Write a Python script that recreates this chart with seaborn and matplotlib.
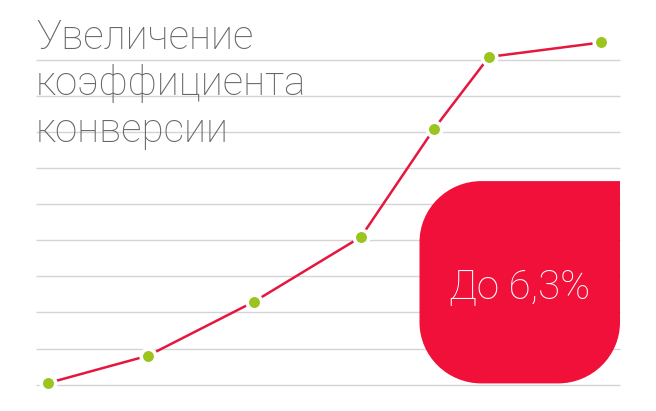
import numpy as np
import pandas as pd
import seaborn as sns
import matplotlib
matplotlib.use("Agg")
import matplotlib.pyplot as plt
from matplotlib.path import Path
from matplotlib.patches import PathPatch

# data (grid step = 1 unit)
x_vals = [0.0, 1.0, 2.06, 3.13, 3.86, 4.41, 5.53]
y_vals = [0.04, 0.8, 2.3, 4.1, 7.1, 9.1, 9.5]
grid_levels = list(range(10))
title_lines = ["Увеличение", "коэффициента", "конверсии"]
badge_text = "До 6,3%"

df = pd.DataFrame({"x": x_vals, "y": y_vals})

sns.set_theme(style="white")
plt.rcParams["font.family"] = ["Roboto", "DejaVu Sans"]

fig = plt.figure(figsize=(6.56, 4.11), dpi=100)
ax = fig.add_axes([0, 0, 1, 1])
ax.set_xlim(-0.48, 6.08)
ax.set_ylim(-0.736, 10.68)
ax.axis("off")

# grid lines
ax.hlines(grid_levels, -0.12, 5.72, color="#d4d4d4", lw=1.0, zorder=1)

# red badge, rounded on three corners
x0, x1 = 3.715, 5.72
y0, y1 = 0.03, 5.65
rx, ry = 0.62, 1.7
k = 0.5523
verts = [
    (x0 + rx, y1),
    (x1, y1),
    (x1, y0 + ry),
    (x1, y0 + ry * (1 - k)), (x1 - rx * (1 - k), y0), (x1 - rx, y0),
    (x0 + rx, y0),
    (x0 + rx * (1 - k), y0), (x0, y0 + ry * (1 - k)), (x0, y0 + ry),
    (x0, y1 - ry),
    (x0, y1 - ry * (1 - k)), (x0 + rx * (1 - k), y1), (x0 + rx, y1),
    (x0 + rx, y1),
]
codes = [Path.MOVETO, Path.LINETO, Path.LINETO,
         Path.CURVE4, Path.CURVE4, Path.CURVE4,
         Path.LINETO,
         Path.CURVE4, Path.CURVE4, Path.CURVE4,
         Path.LINETO,
         Path.CURVE4, Path.CURVE4, Path.CURVE4,
         Path.CLOSEPOLY]
ax.add_patch(PathPatch(Path(verts, codes), facecolor="#f0103a", edgecolor="none", zorder=2))
ax.text((x0 + x1) / 2, 2.7, badge_text, color="white", fontsize=29,
        fontweight="light", ha="center", va="center", zorder=3)

# line with markers
sns.lineplot(data=df, x="x", y="y", ax=ax, color="#e5173f", lw=1.8,
             marker="o", markersize=10.5, markerfacecolor="#9cc41e",
             markeredgecolor="white", markeredgewidth=2.6, zorder=4)

# title
for i, t in enumerate(title_lines):
    ax.text(-0.12, 9.33 - i * 1.3, t, color="#666666", fontsize=29,
            fontweight="light", ha="left", va="baseline", zorder=3)

ax.set_xlabel("")
ax.set_ylabel("")
fig.savefig("out.png", dpi=100)
